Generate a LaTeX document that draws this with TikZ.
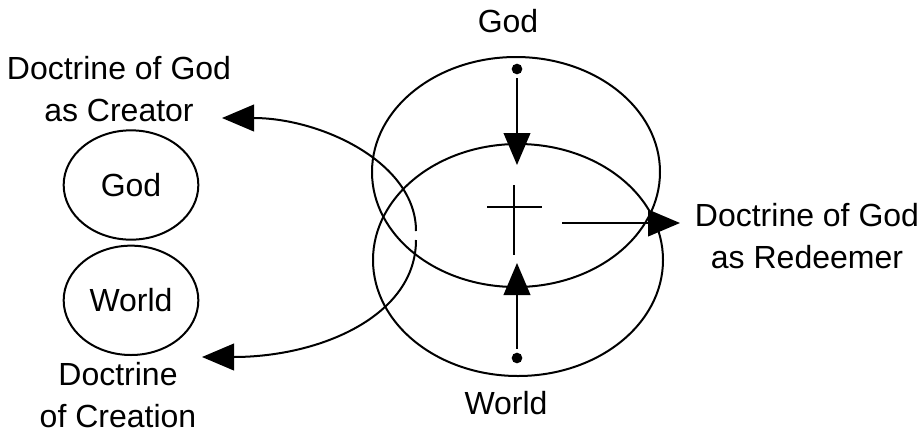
\documentclass[tikz,border=0pt]{standalone}
\usepackage{fontspec}
\setmainfont{Liberation Sans}
\usetikzlibrary{positioning,arrows.meta,shapes.geometric}

\begin{document}
\begin{tikzpicture}[x=0.75pt,y=-0.75pt,>={Triangle[length=24pt,width=20pt]},line width=1.5pt,
  every node/.style={font=\fontsize{24}{31}\selectfont,align=center},
  smallring/.style={draw,ellipse,minimum width=101pt,minimum height=82pt,inner sep=0pt},
  point/.style={circle,fill,inner sep=0pt,minimum size=8pt,outer sep=3pt}]
\useasboundingbox (0,0) rectangle (922,433);
% separate view: God and World apart
\node[smallring] (god) at (131,185) {God};
\node[smallring,below=3pt of god] (world) {World};
\node (creator) at (119,89) {Doctrine of God\\as Creator};
\node (creation) at (118,395) {Doctrine\\of Creation};
% overlapping view
\draw (516,172) ellipse [x radius=144,y radius=115];
\draw (518,260) ellipse [x radius=145,y radius=116];
\node (godtop) at (508,21) {God};
\node (worldbot) at (506,403) {World};
\node[point] (godpt) at (517,69) {};
\node[point] (worldpt) at (517,358) {};
\coordinate (downtip) at (517,165);
\coordinate (uptip) at (517,263);
\draw[->] (godpt) -- (downtip);
\draw[->] (worldpt) -- (uptip);
\draw (487,207) -- (542,207) (514,185) -- (514,255);
\node (redeemer) at (807,236) {Doctrine of God\\as Redeemer};
\coordinate (rstart) at (562,223);
\coordinate (rtip) at (680,223);
\draw[->] (rstart) -- (rtip);
% the two curved arrows
\coordinate (gaptop) at (416,231);
\coordinate (gapbot) at (416,240);
\coordinate (creatortip) at (222,118);
\coordinate (creationtip) at (202,357);
\draw[->] (gaptop) .. controls (416,162) and (320,118) .. (creatortip);
\draw[->] (gapbot) .. controls (416,316) and (320,357) .. (creationtip);
\end{tikzpicture}
\end{document}
